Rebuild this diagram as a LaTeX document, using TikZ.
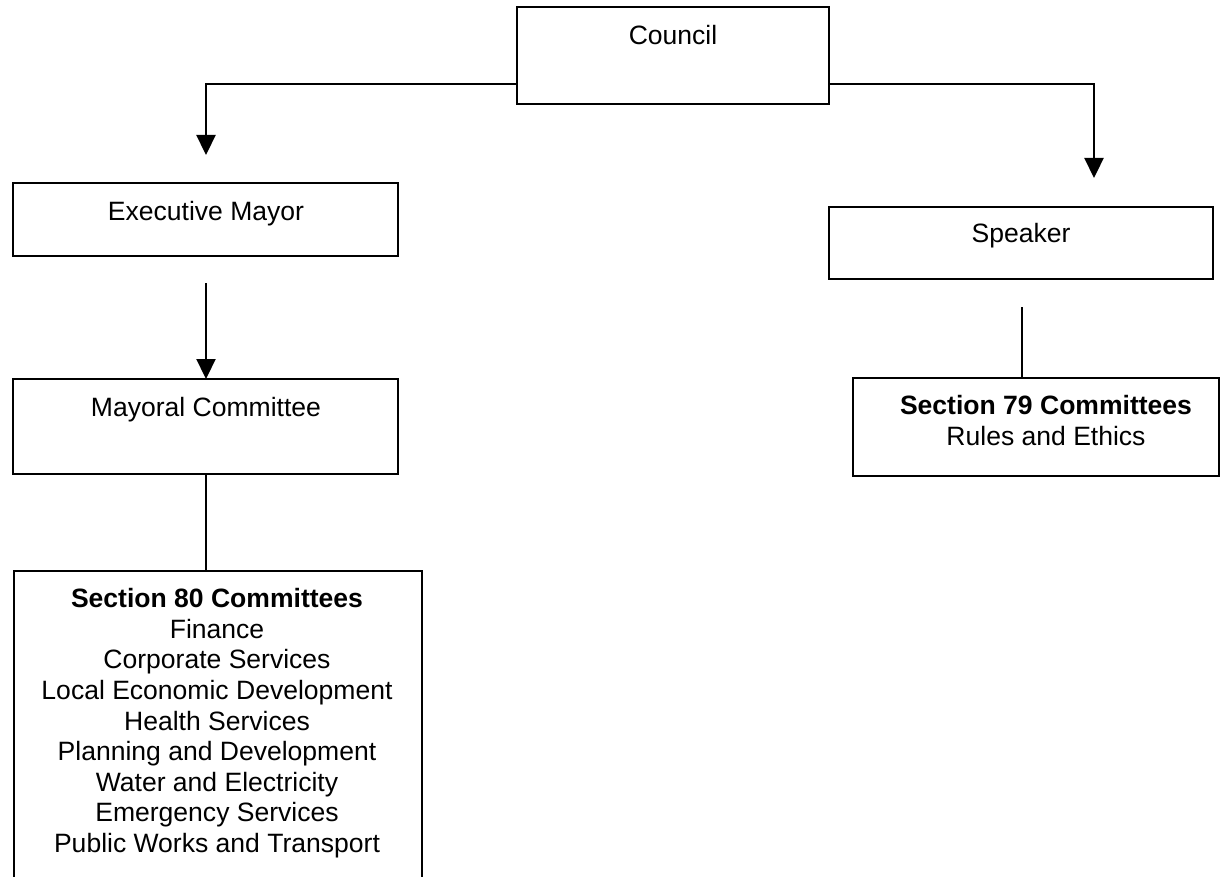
\documentclass[tikz,border=0pt]{standalone}
\usepackage{fontspec}
\setmainfont{Liberation Sans}
\usetikzlibrary{arrows.meta}
\begin{document}
\begin{tikzpicture}[x=0.75pt,y=-0.75pt,
  box/.style={draw=black,line width=1.3pt,rectangle,inner sep=0pt,outer sep=0pt},
  lbl/.style={anchor=north,inner sep=0pt,align=center,
              font=\fontsize{19.9pt}{22.9pt}\selectfont},
  conn/.style={draw=black,line width=1.5pt},
  tip/.style={-{Triangle[width=14.3pt,length=15pt]}}]
\useasboundingbox (0,0) rectangle (1220,877);
\clip (0,0) rectangle (1220,877);

% boxes
\node[box,minimum width=234pt,minimum height=72.75pt]  (council) at (673,55.5) {};
\node[box,minimum width=288.75pt,minimum height=54.75pt] (mayor) at (205.5,219.5) {};
\node[box,minimum width=288pt,minimum height=54pt] (speaker) at (1021,243) {};
\node[box,minimum width=288.75pt,minimum height=71.25pt] (mayoral) at (205.5,426.5) {};
\node[box,minimum width=274.5pt,minimum height=73.5pt] (sec79) at (1036,427) {};
\node[box,minimum width=306pt,minimum height=246.75pt] (sec80) at (218,735.5) {};

% labels
\node[lbl] (tcouncil) at (673,25.4) {Council};
\node[lbl] (tmayor) at (206,201.4) {Executive Mayor};
\node[lbl] (tspeaker) at (1021,223.4) {Speaker};
\node[lbl] (tmayoral) at (206,397.4) {Mayoral Committee};
\node[lbl] (tsec79) at (1046,395.4) {\textbf{Section 79 Committees}\\Rules and Ethics};
\node[lbl] (tsec80) at (217,588.4) {\textbf{Section 80 Committees}\\Finance\\Corporate Services\\
  Local Economic Development\\Health Services\\Planning and Development\\
  Water and Electricity\\Emergency Services\\Public Works and Transport};

% connector ends
\coordinate (mayortip) at (206,155);
\coordinate (speakertip) at (1094,178);
\coordinate (mstart) at (206,283);
\coordinate (sstart) at (1022,307);

% connectors
\draw[conn,tip] ([yshift=15pt]council.south west) -| (mayortip);
\draw[conn,tip] ([yshift=15pt]council.south east) -| (speakertip);
\draw[conn,tip] (mstart) -- (mstart |- mayoral.north);
\draw[conn] (sstart) -- (sstart |- sec79.north);
\draw[conn] (mstart |- mayoral.south) -- (mstart |- sec80.north);
\end{tikzpicture}
\end{document}
